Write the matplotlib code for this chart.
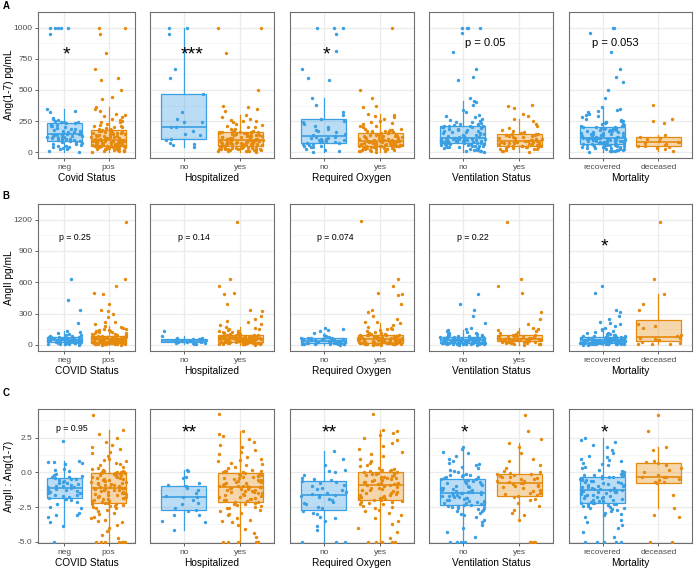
import numpy as np
import matplotlib
matplotlib.use("Agg")
import matplotlib.pyplot as plt
from matplotlib.colors import to_rgba

plt.rcParams['font.family'] = ['Liberation Sans', 'DejaVu Sans']

# ---------------- data ----------------
# row A : Ang(1-7) pg/mL
a_covid_neg = [5, 15, 25, 30, 35, 40, 45, 50, 55, 60, 65, 70, 75, 80, 85, 88, 90,
               95, 100, 102, 105, 108, 110, 115, 118, 120, 125, 128, 130, 132, 135, 138, 140, 142,
               145, 148, 150, 155, 160, 165, 170, 175, 180, 185, 190, 195, 200, 210, 215, 220, 228,
               232, 235, 240, 240, 245, 250, 260, 270, 272, 320, 330, 345,
               950, 1000, 1000, 1000, 1000, 1000]
a_covid_pos = [5, 8, 10, 12, 15, 18, 20, 22, 25, 28, 30, 30, 32, 35, 35, 38, 40, 40, 42, 45, 45, 46,
               48, 48, 50, 50, 51, 52, 52, 53, 53, 54,
               55, 56, 58, 60, 62, 63, 65, 66, 68, 70, 70, 72, 75, 76, 78, 80, 80, 82, 84, 85, 88, 90,
               90, 92, 94, 95, 96, 98, 100, 100, 102, 103,
               105, 107, 110, 112, 115, 118, 120, 122, 125, 128, 130, 132, 135, 138, 140, 142, 145,
               148, 150, 152, 155, 158, 160, 163, 166, 170, 172, 175, 178, 180, 183, 186,
               190, 195, 200, 205, 210, 215, 220, 230, 240, 245, 250, 260, 270, 280, 290, 300, 310,
               330, 350, 363,
               430, 440, 500, 580, 600, 670, 800, 950, 1000, 1000]
a_hosp_no = [45, 60, 70, 75, 100, 110, 140, 150, 175, 200, 205, 240, 245, 270, 320, 470,
             600, 670, 950, 1000, 1000]
a_hosp_yes = [5, 8, 10, 12, 14, 15, 18, 20, 20, 22, 24, 25, 26, 28, 30, 30, 32, 33, 35, 35, 36, 38,
              38, 40, 42, 45, 48, 50, 52, 55, 58,
              60, 62, 64, 65, 66, 68, 70, 70, 72, 74, 75, 76, 78, 78, 80, 80, 82, 84, 86, 88, 90,
              92, 94, 95, 96, 98, 100, 100, 102, 104,
              106, 108, 110, 112, 115, 118, 120, 122, 125, 128, 130, 132, 135, 138, 140, 142, 145,
              148, 150, 152, 154, 155, 157, 158, 160, 160, 162, 163, 164, 165,
              170, 178, 185, 190, 200, 205, 210, 220, 230, 240, 250, 255, 260, 270, 285, 296,
              330, 350, 360, 370, 500, 800, 1000, 1000]
a_oxy_no = [5, 10, 20, 30, 40, 45, 50, 55, 60, 65, 70, 72,
            75, 80, 85, 90, 95, 98, 100, 105, 110, 112, 115, 120,
            125, 130, 140, 150, 160, 170, 180, 190, 200, 215, 225, 240,
            250, 270, 300, 320, 380, 437,
            580, 600, 670, 810, 950, 1000, 1000, 1000]
a_oxy_yes = [5, 8, 10, 12, 15, 18, 20, 22, 24, 25, 28, 30, 32, 34, 35, 37, 38, 40, 42, 43, 45, 46,
             48, 50, 51, 52, 53, 54, 55,
             57, 58, 60, 61, 62, 64, 65, 66, 68, 69, 70, 72, 73, 75, 76, 77, 78, 80, 82, 84, 86,
             88, 90, 91, 92, 93, 94, 95, 96,
             98, 100, 103, 105, 108, 110, 112, 115, 118, 120, 123, 125, 128, 130, 133, 135, 138,
             140, 143, 146, 150, 154, 158, 162, 165, 168, 170, 172, 174,
             178, 182, 185, 190, 200, 210, 215, 225, 235, 245, 255, 265, 280, 290, 300, 306,
             360, 370, 432, 500, 1000]
a_vent_no = [5, 8, 10, 14, 18, 20, 24, 28, 30, 34, 38, 40, 42, 45, 48, 50, 52, 55, 57, 60, 62, 64,
             66, 68, 70, 71, 72, 73, 74,
             75, 77, 78, 80, 82, 84, 85, 86, 88, 90, 91, 92, 94, 95, 96, 98, 99, 100, 102, 103,
             104, 106, 107, 108, 110, 111, 112, 113, 114,
             116, 120, 124, 128, 132, 136, 140, 144, 148, 152, 156, 160, 164, 168, 172, 176, 180,
             184, 188, 192, 196, 200, 204, 206, 208, 210, 212, 214, 216,
             220, 225, 230, 235, 240, 245, 250, 260, 270, 280, 290, 300, 320, 340, 380, 400, 410, 432,
             580, 604, 671, 807, 955, 1000, 1000, 1000, 1000]
a_vent_yes = [5, 10, 15, 20, 25, 28, 30, 34, 38, 40, 42, 45, 48, 50, 52, 54, 55,
              58, 60, 62, 65, 68, 70, 72, 74, 76, 78, 80, 82, 84, 86, 88, 90, 92,
              95, 98, 100, 104, 108, 112, 116, 120, 124, 128, 132, 136, 140, 144, 148, 150, 154,
              160, 170, 180, 195, 210, 230, 250, 270, 289,
              308, 353, 370, 382]
a_mort_rec = [5, 8, 10, 12, 15, 18, 20, 22, 25, 28, 30, 33, 35, 38, 40, 42, 45, 47, 50, 52, 54, 56,
              58, 60, 61, 62, 63, 64, 65, 67, 68,
              70, 72, 74, 76, 78, 80, 82, 84, 86, 88, 90, 92, 94, 95, 96, 98, 100, 101, 102, 104,
              105, 106, 108, 109, 110, 111, 112, 113, 114, 115, 117,
              120, 123, 126, 129, 132, 135, 138, 141, 144, 147, 150, 153, 156, 159, 162, 165, 168,
              171, 174, 177, 180, 183, 186, 189, 192, 194, 196, 197, 198, 200, 201,
              205, 210, 215, 220, 225, 230, 235, 240, 245, 250, 255, 260, 270, 280, 290, 300, 310,
              320, 330, 340, 350, 365,
              437, 498, 568, 604, 671, 807, 955, 1000, 1000]
a_mort_dec = [15, 25, 35, 45, 52, 55, 60, 70, 78, 82, 86, 95, 105, 115, 120, 140, 232, 252, 267, 378]

# row B : AngII pg/mL
b_covid_neg = [3, 5, 8, 10, 12, 14, 15, 17, 18, 19, 20, 21, 22, 23, 24, 25,
               27, 29, 31, 33, 35, 37, 39, 40, 42, 43, 44, 45, 46, 47, 48, 49,
               51, 53, 55, 57, 59, 60, 62, 64, 66, 68, 70, 72, 74, 75, 76, 77,
               80, 85, 90, 95, 100, 110, 120, 130,
               214, 338, 432, 632]
b_covid_pos = [2, 3, 4, 5, 5, 6, 7, 8, 8, 9, 10, 10, 11, 12, 12, 13, 14, 14, 15, 15, 16, 16, 17, 17,
               18, 18, 19, 19, 20, 20,
               21, 22, 23, 24, 25, 26, 27, 28, 29, 30, 31, 32, 33, 34, 35, 36, 37, 38, 39, 40, 41,
               42, 43, 44, 45, 46, 47, 48, 49, 50,
               51, 52, 53, 54, 55, 56, 57, 58, 59, 60, 61, 62, 63, 64, 65, 66, 67, 68, 69, 70, 71,
               72, 73, 74, 75, 76, 77, 78, 79, 80,
               85, 88, 90, 95, 100, 105, 110, 115, 120, 125, 130, 135, 140, 145, 150, 155, 160, 170,
               185, 200, 220, 220, 270, 300, 320, 338, 388, 485, 500, 561, 632, 1180]
b_hosp_no = [8, 12, 15, 18, 22, 25, 28, 32, 36, 38, 42, 45, 48, 52, 55, 58, 62, 70, 80, 130]
b_hosp_yes = [3, 5, 6, 8, 9, 10, 11, 12, 13, 14, 15, 16, 17, 18, 19, 20, 21, 22, 23, 24, 25, 26, 26,
              27, 28, 28, 29, 30,
              31, 32, 33, 34, 35, 36, 37, 38, 39, 40, 41, 42, 43, 44, 45, 46, 47, 48, 49, 50, 50,
              51, 52, 52, 53, 54, 54, 55,
              56, 57, 58, 59, 60, 62, 63, 64, 65, 66, 68, 69, 70, 71, 72, 74, 75, 76, 77, 78, 80,
              81, 82, 84, 85, 86, 88, 90,
              92, 95, 98, 100, 105, 110, 115, 120, 125, 130, 135, 140, 150, 155, 165, 175,
              190, 200, 220, 230, 250, 280, 323, 338, 391, 485, 500, 561, 632, 1180]
b_oxy_no = [3, 5, 6, 8, 9, 10, 11, 12, 13, 14, 15, 17, 19, 21, 23, 25, 27, 29, 31, 33, 35, 37, 38,
            40, 42, 44, 46, 48, 50, 52, 54, 56, 58, 60, 62, 64, 66, 70, 75, 85, 95, 110, 130,
            147, 155, 160]
b_oxy_yes = [2, 3, 4, 5, 6, 7, 8, 9, 10, 10, 11, 12, 12, 13, 14, 14, 15, 16, 16, 17, 17, 18, 18,
             19, 19, 20,
             22, 24, 26, 28, 30, 31, 32, 33, 34, 35, 36, 37, 38, 39, 40, 41, 42, 43, 44, 45, 46,
             47, 48, 49, 50, 50,
             52, 54, 56, 58, 60, 62, 64, 66, 68, 70, 72, 74, 76, 78, 80, 82, 84, 85, 86, 88, 89,
             90, 92, 93, 94, 95,
             98, 100, 105, 110, 115, 120, 130, 140, 150, 155, 165, 175, 190, 205,
             220, 220, 244, 273, 318, 338, 391, 479, 485, 500, 561, 632, 1185]
b_vent_no = [2, 3, 4, 5, 6, 7, 8, 9, 10, 10, 11, 12, 12, 13, 14, 14, 15, 16, 16, 17, 17, 18, 18,
             19, 19, 20,
             21, 22, 23, 24, 25, 26, 27, 28, 29, 30, 31, 32, 33, 34, 35, 36, 37, 38, 39, 40, 41,
             42, 43, 44, 44, 45,
             46, 47, 48, 49, 50, 51, 52, 53, 54, 55, 56, 57, 58, 59, 60, 62, 63, 64, 66, 67, 68,
             70, 71, 72, 74, 75,
             78, 80, 82, 85, 88, 90, 95, 100, 105, 110, 115, 120, 130, 140, 150,
             161, 214, 279, 338, 391, 485]
b_vent_yes = [3, 5, 8, 10, 12, 15, 18, 20, 22, 24, 26, 28, 30, 32,
              34, 36, 38, 40, 41, 42, 44, 45, 46, 48, 49, 50, 51, 52,
              54, 56, 58, 60, 63, 66, 69, 72, 75, 78, 81, 84, 87, 90,
              95, 100, 110, 120, 130, 140, 150, 160,
              200, 250, 318, 500, 561, 632, 1180]
b_mort_rec = [2, 3, 4, 5, 6, 7, 8, 9, 10, 10, 11, 12, 12, 13, 14, 14, 15, 16, 16, 17, 17, 18, 18,
              19, 19, 20,
              21, 22, 23, 24, 25, 26, 27, 28, 29, 30, 31, 32, 33, 34, 35, 36, 37, 38, 39, 40, 41,
              42, 43, 44, 44, 45,
              46, 47, 48, 49, 50, 51, 52, 53, 54, 55, 56, 57, 58, 59, 60, 62, 63, 64, 66, 67, 68,
              70, 71, 72, 74, 75,
              78, 80, 82, 85, 88, 90, 95, 100, 105, 110, 115, 120, 130, 140, 150, 160,
              180, 200, 214, 220, 250, 273, 318, 338, 500, 561]
b_mort_dec = [5, 10, 12, 20, 30, 45, 50, 58, 64, 70, 80, 91, 162, 185, 200, 338, 391, 485, 632, 1180]

# row C : AngII : Ang(1-7)
c_covid_neg = [-5.0, -3.85, -3.6, -3.2, -3.1, -3.05, -2.9, -2.6, -2.5, -2.3, -2.1, -2.0, -1.95, -1.9,
               -1.85,
               -1.78, -1.7, -1.65, -1.6, -1.5, -1.45, -1.4, -1.35, -1.3, -1.25, -1.2, -1.15, -1.1,
               -1.08, -1.05,
               -1.0, -0.95, -0.9, -0.85, -0.8, -0.75, -0.7, -0.6, -0.55, -0.5, -0.45, -0.4, -0.35,
               -0.3, -0.27,
               -0.2, -0.1, 0.1, 0.2, 0.25, 0.6, 0.7, 0.75, 0.78, 0.84,
               2.26]
c_covid_pos = [-5.0, -5.0, -5.0, -5.0, -5.0, -5.0, -5.0, -5.0, -4.7, -4.5, -4.2, -4.0, -3.8, -3.6,
               -3.5, -3.4, -3.3, -3.2, -3.0, -2.9, -2.8, -2.7, -2.6, -2.55, -2.5, -2.45, -2.4, -2.35,
               -2.3, -2.25, -2.2, -2.18,
               -2.12, -2.08, -2.04, -2.0, -1.95, -1.9, -1.86, -1.82, -1.78, -1.74, -1.7, -1.66,
               -1.62, -1.58, -1.54, -1.5, -1.46, -1.42, -1.38, -1.34, -1.3, -1.27, -1.24, -1.21,
               -1.18, -1.15, -1.13, -1.11, -1.09, -1.07, -1.06, -1.05,
               -1.02, -0.98, -0.94, -0.9, -0.86, -0.82, -0.78, -0.74, -0.7, -0.66, -0.62, -0.58,
               -0.54, -0.5, -0.46, -0.42, -0.38, -0.34, -0.3, -0.26, -0.22, -0.18, -0.15, -0.12,
               -0.09, -0.06, -0.03, -0.01, 0.0, 0.02, 0.03, 0.04,
               0.08, 0.12, 0.18, 0.25, 0.3, 0.4, 0.5, 0.6, 0.7, 0.8, 0.9, 1.0, 1.2, 1.4, 1.5, 1.7,
               1.8, 2.0, 2.2, 2.5, 2.8, 3.05,
               4.13]
c_hosp_no = [-4.16, -3.6, -3.5, -3.1, -3.1, -2.8, -2.7, -2.6, -2.3, -2.2, -2.0, -1.8, -1.75, -1.7,
             -1.5, -1.3, -1.1, -1.0, -0.9, -0.8, -0.4, -0.35, 0.1, 0.17]
c_hosp_yes = [-5.0, -5.0, -5.0, -5.0, -5.0, -5.0, -4.69, -4.4, -4.1, -3.8, -3.6, -3.5, -3.4, -3.3,
              -3.1, -3.0, -2.9, -2.8, -2.7, -2.6, -2.55, -2.5, -2.4, -2.35, -2.3, -2.25, -2.2,
              -2.15, -2.1, -2.07,
              -2.02, -1.98, -1.94, -1.9, -1.85, -1.8, -1.75, -1.7, -1.65, -1.6, -1.56, -1.52,
              -1.48, -1.44, -1.4, -1.36, -1.32, -1.28, -1.24, -1.2, -1.17, -1.14, -1.11, -1.08,
              -1.06, -1.04, -1.02, -1.01, -1.0, -0.99,
              -0.96, -0.92, -0.88, -0.84, -0.8, -0.76, -0.72, -0.68, -0.64, -0.6, -0.56, -0.52,
              -0.48, -0.44, -0.4, -0.36, -0.32, -0.28, -0.24, -0.2, -0.16, -0.12, -0.08, -0.04,
              0.0, 0.03, 0.06, 0.08, 0.1, 0.12,
              0.2, 0.3, 0.4, 0.5, 0.6, 0.7, 0.8, 0.9, 1.0, 1.1, 1.3, 1.5, 1.6, 1.8, 2.0, 2.2, 2.4,
              2.6, 2.8, 2.98,
              4.2]
c_oxy_no = [-5.0, -5.0, -5.0, -4.16, -3.9, -3.5, -3.3, -3.2, -3.0, -2.9, -2.8, -2.6, -2.5, -2.3,
            -2.2, -2.1, -2.0, -1.9, -1.8, -1.7, -1.65, -1.6, -1.55, -1.5, -1.4, -1.3, -1.2, -1.1,
            -1.0, -0.9, -0.8, -0.7, -0.6, -0.55, -0.5, -0.4, -0.2, 0.0, 0.1, 0.2, 0.5, 1.0, 1.54]
c_oxy_yes = [-5.0, -5.0, -5.0, -5.0, -5.0, -4.7, -4.3, -4.0, -3.7, -3.5, -3.3, -3.1, -2.9, -2.8,
             -2.7, -2.6, -2.5, -2.4, -2.3, -2.25, -2.2, -2.15, -2.1, -2.05, -2.0, -1.97,
             -1.92, -1.88, -1.84, -1.8, -1.75, -1.7, -1.65, -1.6, -1.55, -1.5, -1.45, -1.4, -1.35,
             -1.3, -1.25, -1.2, -1.15, -1.1, -1.05, -1.0, -0.96, -0.92, -0.89, -0.86, -0.83, -0.81,
             -0.78, -0.74, -0.7, -0.66, -0.62, -0.58, -0.54, -0.5, -0.46, -0.42, -0.38, -0.34,
             -0.3, -0.26, -0.22, -0.18, -0.14, -0.1, -0.06, -0.02, 0.02, 0.06, 0.09, 0.12, 0.14,
             0.16,
             0.25, 0.35, 0.45, 0.55, 0.7, 0.85, 1.0, 1.15, 1.3, 1.5, 1.7, 1.9, 2.1, 2.3, 2.5, 2.7,
             2.85, 2.95, 3.05,
             4.2]
c_vent_no = [-5.0, -5.0, -5.0, -5.0, -4.64, -4.3, -4.0, -3.8, -3.6, -3.4, -3.2, -3.1, -3.0, -2.9,
             -2.8, -2.75, -2.7, -2.65, -2.6, -2.55, -2.5, -2.45, -2.4, -2.37, -2.35, -2.32,
             -2.28, -2.24, -2.2, -2.16, -2.12, -2.08, -2.04, -2.0, -1.96, -1.92, -1.88, -1.84,
             -1.8, -1.76, -1.72, -1.68, -1.64, -1.6, -1.56, -1.52, -1.48, -1.45, -1.42, -1.4,
             -1.38, -1.36,
             -1.32, -1.28, -1.24, -1.2, -1.15, -1.1, -1.05, -1.0, -0.95, -0.9, -0.85, -0.8, -0.75,
             -0.7, -0.65, -0.6, -0.55, -0.5, -0.45, -0.4, -0.35, -0.3, -0.25, -0.22, -0.19, -0.16,
             -0.1, 0.0, 0.1, 0.2, 0.3, 0.4, 0.5, 0.6, 0.7, 0.8, 1.0, 1.2, 1.4, 1.5, 1.7, 1.85]
c_vent_yes = [-5.0, -5.0, -5.0, -5.0, -3.44, -3.1, -2.9, -2.7, -2.4, -2.2, -2.0, -1.9, -1.8, -1.7,
              -1.62, -1.55, -1.5, -1.45, -1.35, -1.25, -1.15, -1.05, -1.0, -0.95, -0.9, -0.85,
              -0.8, -0.75,
              -0.7, -0.65, -0.6, -0.5, -0.45, -0.4, -0.35, -0.3, -0.25, -0.2, -0.15, -0.1, -0.05,
              0.03,
              0.1, 0.3, 0.5, 0.8, 1.0, 1.4, 1.8, 2.1, 2.4,
              3.0, 4.13]
c_mort_rec = [-5.0, -5.0, -5.0, -5.0, -5.0, -4.64, -4.3, -4.0, -3.8, -3.6, -3.4, -3.2, -3.1, -3.0,
              -2.9, -2.8, -2.7, -2.65, -2.6, -2.55, -2.5, -2.45, -2.4, -2.35, -2.3, -2.28, -2.26,
              -2.24, -2.22, -2.2,
              -2.16, -2.12, -2.08, -2.04, -2.0, -1.96, -1.92, -1.88, -1.84, -1.8, -1.76, -1.72,
              -1.68, -1.64, -1.6, -1.56, -1.52, -1.48, -1.44, -1.41, -1.38, -1.35, -1.33, -1.31,
              -1.29, -1.27, -1.26, -1.25, -1.24, -1.23,
              -1.2, -1.16, -1.12, -1.08, -1.04, -1.0, -0.96, -0.92, -0.88, -0.84, -0.8, -0.76,
              -0.72, -0.68, -0.64, -0.6, -0.56, -0.52, -0.48, -0.44, -0.4, -0.36, -0.32, -0.28,
              -0.25, -0.22, -0.19, -0.16, -0.14, -0.12,
              0.0, 0.1, 0.2, 0.3, 0.4, 0.5, 0.6, 0.7, 0.8, 0.9, 1.0, 1.1, 1.2, 1.4, 1.6, 1.8, 2.0,
              2.2, 2.35, 2.45]
c_mort_dec = [-5.0, -5.0, -3.2, -3.1, -2.6, -1.64, -0.75, -0.72, -0.7, -0.55, -0.45, -0.35, -0.32,
              -0.3, -0.2, 0.0, 0.2, 0.35, 0.5, 0.7, 0.75, 0.8, 1.6, 1.85, 3.0, 4.13]

tick_groups = [["neg", "pos"], ["no", "yes"], ["no", "yes"], ["no", "yes"], ["recovered", "deceased"]]
titles_a = ["Covid Status", "Hospitalized", "Required Oxygen", "Ventilation Status", "Mortality"]
titles_bc = ["COVID Status", "Hospitalized", "Required Oxygen", "Ventilation Status", "Mortality"]
ylabels = ["Ang(1-7) pg/mL", "AngII pg/mL", "AngII : Ang(1-7)"]

labels_a = ["*", "***", "*", "p = 0.05", "p = 0.053"]
labels_b = ["p = 0.25", "p = 0.14", "p = 0.074", "p = 0.22", "*"]
labels_c = ["p = 0.95", "**", "**", "*", "*"]

rows = [
    [(a_covid_neg, a_covid_pos), (a_hosp_no, a_hosp_yes), (a_oxy_no, a_oxy_yes),
     (a_vent_no, a_vent_yes), (a_mort_rec, a_mort_dec)],
    [(b_covid_neg, b_covid_pos), (b_hosp_no, b_hosp_yes), (b_oxy_no, b_oxy_yes),
     (b_vent_no, b_vent_yes), (b_mort_rec, b_mort_dec)],
    [(c_covid_neg, c_covid_pos), (c_hosp_no, c_hosp_yes), (c_oxy_no, c_oxy_yes),
     (c_vent_no, c_vent_yes), (c_mort_rec, c_mort_dec)],
]

# ---------------- layout / style ----------------
BLUE = "#3a9fe3"
ORANGE = "#e68a0e"
W, H = 696, 569
col_l = [38, 150, 290, 429, 569]
col_r = [135, 274, 414, 553, 692]
row_t = [12, 204, 409]
row_b = [158, 351, 543]
ylims = [(-45, 1050), (-59, 1239), (-5.09, 4.57)]
yticks = [[0, 250, 500, 750, 1000], [0, 300, 600, 900, 1200], [-5.0, -2.5, 0.0, 2.5]]
yticklabels = [["0", "250", "500", "750", "1000"], ["0", "300", "600", "900", "1200"],
               ["-5.0", "-2.5", "0.0", "2.5"]]
label_pos = [
    [(1.05, 839), (1.14, 839), (1.04, 839), (1.4, 876), (1.23, 876)],
    [(1.23, 1029), (1.18, 1029), (1.2, 1029), (1.18, 1029), (1.03, 1009)],
    [(1.16, 3.17), (1.1, 3.36), (1.09, 3.36), (1.03, 3.36), (1.03, 3.36)],
]
row_labels = [labels_a, labels_b, labels_c]
row_titles = [titles_a, titles_bc, titles_bc]
letter_y = [6, 196, 393]


def jitter(n, start):
    # deterministic scatter of x offsets in [-0.4, 0.4] (position only)
    k = np.arange(1, n + 1)
    u = np.sin(k * 12.9898 + start * 78.233) * 43758.5453
    return (u - np.floor(u) - 0.5) * 0.8


fig = plt.figure(figsize=(W / 100, H / 100), dpi=100)

for r in range(3):
    for c in range(5):
        ax = fig.add_axes([col_l[c] / W, 1 - row_b[r] / H,
                           (col_r[c] - col_l[c]) / W, (row_b[r] - row_t[r]) / H])
        groups = rows[r][c]
        cols = [BLUE, ORANGE]

        bp = ax.boxplot(list(groups), positions=[1, 2], widths=0.8, patch_artist=True,
                        showfliers=False, showcaps=False, whis=1.5, zorder=2)
        for i, col in enumerate(cols):
            bp['boxes'][i].set(facecolor=to_rgba(col, 0.35), edgecolor=col, linewidth=0.9)
            bp['medians'][i].set(color=col, linewidth=1.2)
            for wl in bp['whiskers'][2 * i:2 * i + 2]:
                wl.set(color=col, linewidth=0.9)

        for i, (vals, col) in enumerate(zip(groups, cols)):
            v = np.asarray(vals, dtype=float)
            x = (i + 1) + jitter(len(v), 1.7 * r + 0.9 * c + 0.45 * i)
            ax.scatter(x, v, s=6, color=col, linewidths=0, zorder=3)

        ax.set_xlim(0.4, 2.6)
        ax.set_ylim(*ylims[r])
        ax.set_xticks([1, 2])
        ax.set_xticklabels(tick_groups[c])
        yt = yticks[r]
        ax.set_yticks(yt)
        step = yt[1] - yt[0]
        ax.set_yticks([t + step / 2 for t in yt[:-1]] + [yt[-1] + step / 2], minor=True)
        ax.set_axisbelow(True)
        ax.grid(which='major', color='#ebebeb', linewidth=0.9)
        ax.grid(which='minor', axis='y', color='#f3f3f3', linewidth=0.5)
        for sp in ax.spines.values():
            sp.set_color('#6e6e6e')
            sp.set_linewidth(0.8)
        ax.tick_params(axis='both', which='major', length=2.5, width=0.6, color='#444444',
                       labelsize=6, labelcolor='#4d4d4d', pad=1.5)
        ax.tick_params(axis='y', which='minor', length=0)
        if c == 0:
            ax.set_yticklabels(yticklabels[r])
        else:
            ax.tick_params(axis='y', which='both', length=0, labelleft=False)
        ax.set_xlabel(row_titles[r][c], fontsize=7.3, labelpad=1.5)

        lab = row_labels[r][c]
        lx, ly = label_pos[r][c]
        if lab.startswith("p"):
            fs = 8 if r == 0 else 6.3
            ax.text(lx, ly, lab, fontsize=fs, ha='center', va='center', zorder=5)
        else:
            fs = 14
            ax.annotate(lab, (lx, ly), xytext=(0, -0.59 * fs), textcoords='offset points',
                        fontsize=fs, ha='center', va='baseline', zorder=5)

    fig.text(9 / W, 1 - (row_t[r] + row_b[r]) / 2 / H, ylabels[r], rotation=90,
             fontsize=7.3, ha='center', va='center')
    fig.text(6 / W, 1 - letter_y[r] / H, "ABC"[r], fontsize=7, fontweight='bold',
             ha='center', va='center')

fig.savefig("out.png", dpi=100)
